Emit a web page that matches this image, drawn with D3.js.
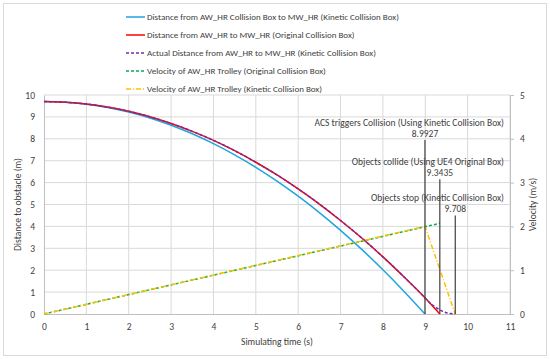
<!DOCTYPE html>
<html>
<head>
<meta charset="utf-8">
<script src="https://cdn.jsdelivr.net/npm/d3@7"></script>
<style>
  body { margin: 0; background: #fff; }
  text { font-family: Carlito, Calibri, Lato, sans-serif; fill: #404040; }
</style>
</head>
<body>
<div id="chart"></div>
<script>
// time samples (s)
const timeSteps = [0, 0.5, 1, 1.5, 2, 2.5, 3, 3.5, 4, 4.5, 5, 5.5, 6, 6.5, 7, 7.5, 8, 8.5];
// distance, kinetic collision box (m)
const distKinetic = [9.70, 9.67, 9.58, 9.43, 9.22, 8.95, 8.62, 8.23, 7.78, 7.27, 6.70, 6.07, 5.38, 4.63, 3.82, 2.95, 2.02, 1.03];
const kineticEnd = [[8.9927, 0]];
// distance, original collision box (m)
const distOriginal = [9.70, 9.67, 9.59, 9.45, 9.26, 9.01, 8.70, 8.34, 7.93, 7.46, 6.93, 6.35, 5.71, 5.02, 4.27, 3.47, 2.61, 1.69];
const originalEnd = [[8.9927, 0.74], [9.3435, 0]];
// actual distance after braking (m)
const actualTail = [[8.9927, 0.74], [9.1, 0.52], [9.2, 0.37], [9.3, 0.24], [9.4, 0.13], [9.5, 0.06], [9.6, 0.02], [9.708, 0]];
// velocities (m/s)
const velOriginal = [[0, 0], [9.3435, 2.07]];
const velKinetic = [[0, 0], [8.9927, 2.0], [9.708, 0]];
// annotations
const eventTimes = [8.9927, 9.3435, 9.708];
const eventTops = [7.95, 6.15, 4.5];
const eventNames = ["ACS triggers Collision (Using Kinetic Collision Box)", "Objects collide (Using UE4 Original Box)", "Objects stop (Kinetic Collision Box)"];

const legendNames = [
  "Distance from AW_HR Collision Box to MW_HR (Kinetic Collision Box)",
  "Distance from AW_HR to MW_HR (Original Collision Box)",
  "Actual Distance from AW_HR to MW_HR (Kinetic Collision Box)",
  "Velocity of AW_HR Trolley (Original Collision Box)",
  "Velocity of AW_HR Trolley (Kinetic Collision Box)"
];

const W = 550, H = 359;
const plotL = 44, plotR = 510, plotT = 95, plotB = 314;

const svg = d3.select("#chart").append("svg").attr("width", W).attr("height", H);
svg.append("rect").attr("x", 0).attr("y", 0).attr("width", W).attr("height", H).attr("fill", "#fff");
svg.append("rect").attr("x", 3.5).attr("y", 3.5).attr("width", 543).attr("height", 352)
  .attr("fill", "none").attr("stroke", "#d9d9d9");

const x = d3.scaleLinear().domain([0, 11]).range([plotL, plotR]);
const y = d3.scaleLinear().domain([0, 10]).range([plotB, plotT]);
const y2 = d3.scaleLinear().domain([0, 5]).range([plotB, plotT]);

// grid
svg.append("g").selectAll("line").data(d3.range(1, 12)).enter().append("line")
  .attr("x1", d => x(d)).attr("x2", d => x(d)).attr("y1", plotT).attr("y2", plotB)
  .attr("stroke", "#d9d9d9");
svg.append("g").selectAll("line").data(d3.range(1, 11)).enter().append("line")
  .attr("x1", plotL).attr("x2", plotR).attr("y1", d => y(d)).attr("y2", d => y(d))
  .attr("stroke", "#d9d9d9");

// axes
const gx = svg.append("g").attr("transform", "translate(0," + plotB + ")")
  .call(d3.axisBottom(x).ticks(11).tickSize(0).tickPadding(9));
const gy = svg.append("g").attr("transform", "translate(" + plotL + ",0)")
  .call(d3.axisLeft(y).ticks(10).tickSize(0).tickPadding(9));
const gy2 = svg.append("g").attr("transform", "translate(" + plotR + ",0)")
  .call(d3.axisRight(y2).ticks(5).tickSize(4).tickPadding(6));
[gx, gy, gy2].forEach(g => {
  g.select(".domain").attr("stroke", "#bfbfbf");
  g.selectAll(".tick line").attr("stroke", "#bfbfbf");
  g.selectAll("text").style("font-family", "Carlito, Calibri, Lato, sans-serif").style("font-size", "9.5px").attr("fill", "#404040");
});

svg.append("text").attr("x", (plotL + plotR) / 2).attr("y", 345).attr("text-anchor", "middle")
  .style("font-size", "9.5px").text("Simulating time (s)");
svg.append("text").attr("transform", "translate(21," + (plotT + plotB) / 2 + ") rotate(-90)")
  .attr("text-anchor", "middle").style("font-size", "9.5px").text("Distance to obstacle (m)");
svg.append("text").attr("transform", "translate(536," + (plotT + plotB) / 2 + ") rotate(-90)")
  .attr("text-anchor", "middle").style("font-size", "9.5px").text("Velocity (m/s)");

// series
const line = d3.line().x(d => x(d[0])).y(d => y(d[1])).curve(d3.curveMonotoneX);
const line2 = d3.line().x(d => x(d[0])).y(d => y2(d[1]));

const kinPts = timeSteps.map((t, i) => [t, distKinetic[i]]).concat(kineticEnd);
const origPts = timeSteps.map((t, i) => [t, distOriginal[i]]).concat(originalEnd);
const actualPts = timeSteps.map((t, i) => [t, distOriginal[i]]).concat(actualTail);

svg.append("path").attr("d", line(kinPts)).attr("fill", "none").attr("stroke", "#1fa5e0").attr("stroke-width", 1.5);
svg.append("path").attr("d", line(origPts)).attr("fill", "none").attr("stroke", "#ff0000").attr("stroke-width", 1.5);
svg.append("path").attr("d", line(actualPts)).attr("fill", "none").attr("stroke", "#7030a0").attr("stroke-width", 1.5)
  .attr("stroke-dasharray", "3,2");
svg.append("path").attr("d", line2(velOriginal)).attr("fill", "none").attr("stroke", "#00b050").attr("stroke-width", 1.5)
  .attr("stroke-dasharray", "3,2");
svg.append("path").attr("d", line2(velKinetic)).attr("fill", "none").attr("stroke", "#ffc000").attr("stroke-width", 1.5)
  .attr("stroke-dasharray", "5,2,1,2");

// event markers
const ev = svg.append("g").selectAll("g").data(eventTimes).enter().append("g");
ev.append("line").attr("x1", d => x(d)).attr("x2", d => x(d))
  .attr("y1", y(0)).attr("y2", (d, i) => y(eventTops[i]))
  .attr("stroke", "#404040").attr("stroke-width", 1.2);
ev.append("text").attr("x", d => x(d)).attr("y", (d, i) => y(eventTops[i]) - 3)
  .attr("text-anchor", "middle").style("font-size", "9.5px").text(d => d);
ev.append("text").attr("x", 504).attr("y", (d, i) => y(eventTops[i]) - 14)
  .attr("text-anchor", "end").style("font-size", "9.5px").text((d, i) => eventNames[i]);

// legend
const legColors = ["#1fa5e0", "#ff0000", "#7030a0", "#00b050", "#ffc000"];
const legDash = [null, null, "3,2", "3,2", "5,2,1,2"];
const leg = svg.append("g").selectAll("g").data(legendNames).enter().append("g")
  .attr("transform", (d, i) => "translate(126," + (17 + i * 18) + ")");
leg.append("line").attr("x1", 0).attr("x2", 19).attr("stroke", (d, i) => legColors[i])
  .attr("stroke-width", 1.5).attr("stroke-dasharray", (d, i) => legDash[i]);
leg.append("text").attr("x", 21).attr("dy", "0.35em").style("font-size", "9px").text(d => d);
</script>
</body>
</html>
